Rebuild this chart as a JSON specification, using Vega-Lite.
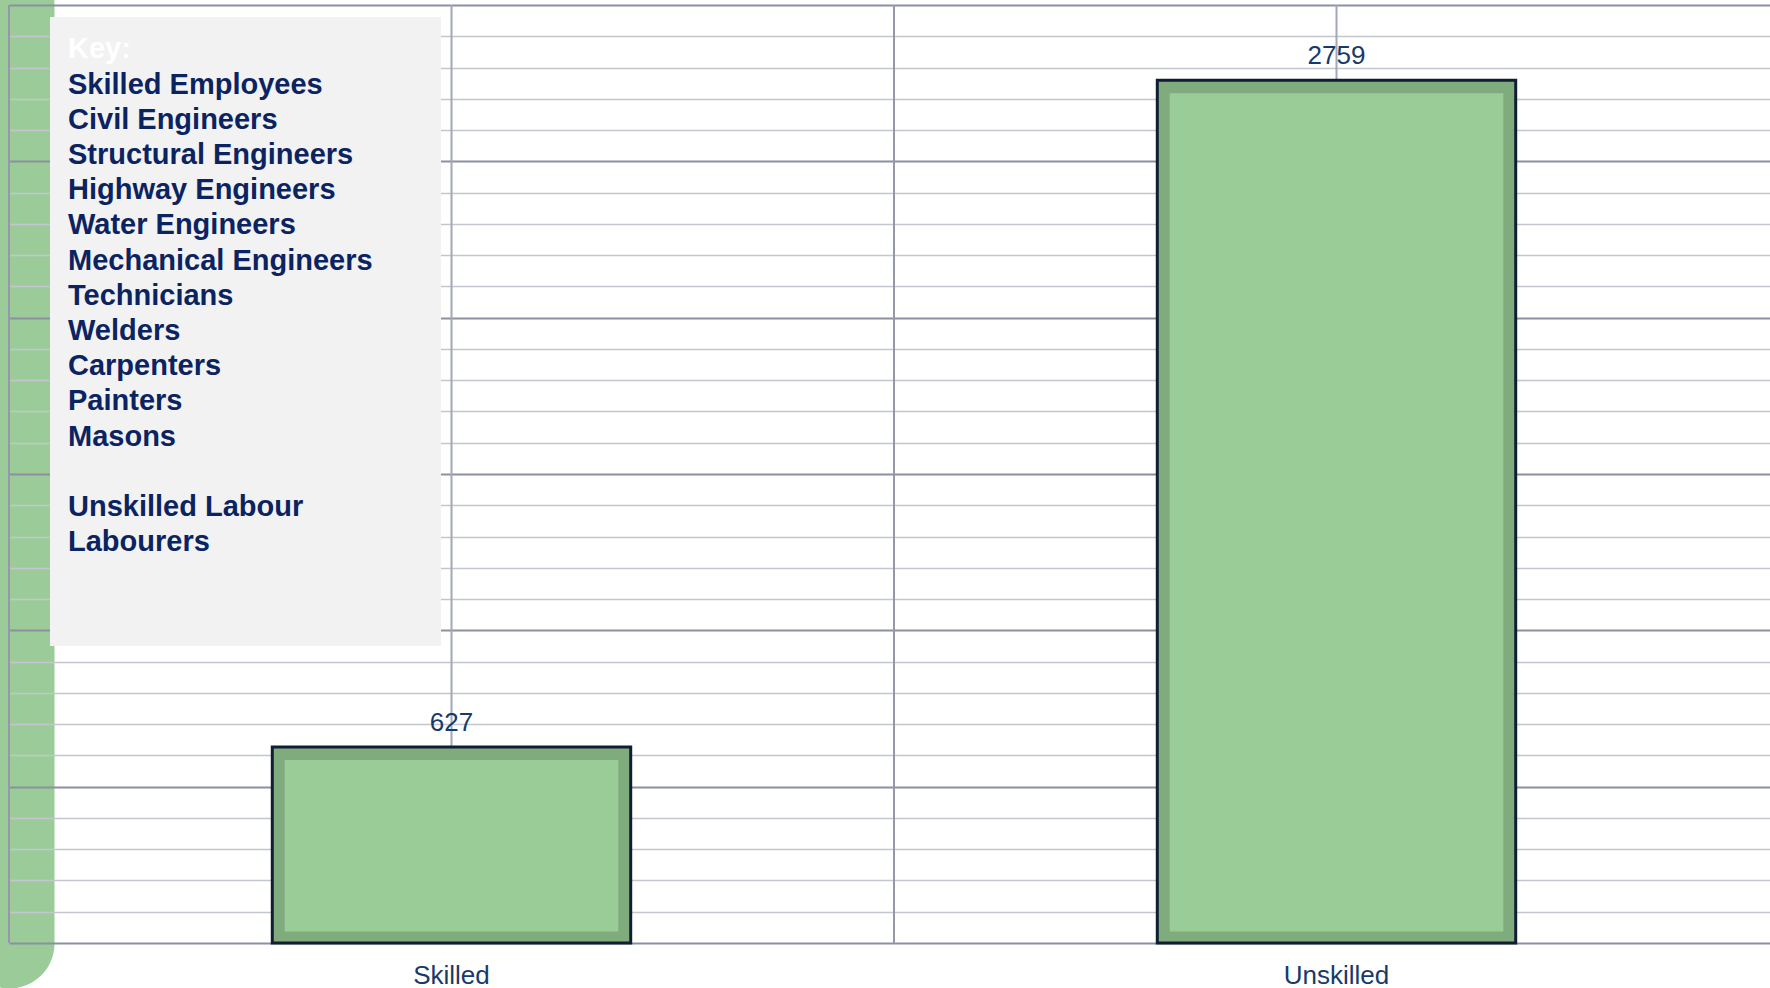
{
  "$schema": "https://vega.github.io/schema/vega-lite/v6.json",
  "width": 1770,
  "height": 988,
  "autosize": {"type": "none"},
  "padding": 0,
  "background": "white",
  "config": {
    "font": "Liberation Sans",
    "view": {"stroke": null}
  },
  "resolve": {"axis": {"x": "independent", "y": "independent"}},
  "datasets": {
    "counts": [
      {"category": "Skilled", "count": 627},
      {"category": "Unskilled", "count": 2759}
    ],
    "key": [
      {"item": "Skilled Employees"},
      {"item": "Civil Engineers"},
      {"item": "Structural Engineers"},
      {"item": "Highway Engineers"},
      {"item": "Water Engineers"},
      {"item": "Mechanical Engineers"},
      {"item": "Technicians"},
      {"item": "Welders"},
      {"item": "Carpenters"},
      {"item": "Painters"},
      {"item": "Masons"},
      {"item": "Unskilled Labour"},
      {"item": "Labourers"}
    ]
  },
  "layer": [
    {
      "data": {"name": "counts"},
      "mark": {"type": "rule", "color": "#9498A8", "strokeWidth": 2},
      "encoding": {
        "x": {
          "field": "category", "type": "nominal", "bandPosition": 0,
          "axis": {
            "orient": "top", "title": null, "labels": false, "ticks": false, "domain": false,
            "grid": true, "bandPosition": 0, "values": ["Skilled"],
            "gridColor": "#9BCB98", "gridWidth": 90, "gridCap": "round", "gridOpacity": 1
          }
        },
        "y": {"datum": 0, "type": "quantitative", "axis": null},
        "y2": {"datum": 3000}
      }
    },
    {
      "data": {"name": "counts"},
      "mark": {"type": "rule", "color": "#A4A8B6", "strokeWidth": 2},
      "encoding": {
        "x": {"field": "category", "type": "nominal", "bandPosition": 0.5, "axis": null},
        "y": {"datum": 0, "type": "quantitative", "axis": null},
        "y2": {"datum": 3000}
      }
    },
    {
      "data": {"name": "counts"},
      "mark": {"type": "bar", "fill": "#80AB7D", "stroke": "#0F1E33", "strokeWidth": 3, "width": {"band": 0.405}},
      "encoding": {
        "x": {
          "field": "category", "type": "nominal",
          "scale": {"domain": ["Skilled", "Unskilled"], "range": [9, 1779], "paddingInner": 0, "paddingOuter": 0},
          "axis": {
            "title": null, "orient": "bottom", "offset": -13, "domain": false, "ticks": false, "grid": false,
            "labelAngle": 0, "labelFontSize": 26, "labelColor": "#173A6B", "labelPadding": 0,
            "labelBaseline": "middle", "labelFont": "Liberation Sans"
          }
        },
        "y": {
          "field": "count", "type": "quantitative",
          "scale": {"domain": [0, 3000], "range": [943, 5], "nice": false, "zero": true},
          "axis": {
            "title": null, "orient": "left", "domain": false, "ticks": false, "labels": false, "grid": true,
            "values": [0,100,200,300,400,500,600,700,800,900,1000,1100,1200,1300,1400,1500,1600,1700,1800,1900,2000,2100,2200,2300,2400,2500,2600,2700,2800,2900,3000],
            "gridColor": {"condition": {"test": "datum.value % 500 === 0", "value": "#8C90A1"}, "value": "#C3C6CE"},
            "gridWidth": {"condition": {"test": "datum.value % 500 === 0", "value": 2}, "value": 1.6},
            "gridOpacity": 1
          }
        }
      }
    },
    {
      "data": {"name": "counts"},
      "mark": {"type": "bar", "fill": "#9ACC98", "width": {"band": 0.377}, "yOffset": 13},
      "encoding": {
        "x": {"field": "category", "type": "nominal", "axis": null},
        "y": {"field": "count", "type": "quantitative", "axis": null},
        "y2": {"datum": 37}
      }
    },
    {
      "data": {"name": "counts"},
      "mark": {"type": "text", "fontSize": 26, "color": "#173A6B", "baseline": "alphabetic", "dy": -16, "font": "Liberation Sans"},
      "encoding": {
        "x": {"field": "category", "type": "nominal", "axis": null},
        "y": {"field": "count", "type": "quantitative", "axis": null},
        "text": {"field": "count", "type": "quantitative"}
      }
    },
    {
      "data": {"name": "key"},
      "mark": {"type": "text", "opacity": 0},
      "encoding": {
        "color": {
          "field": "item", "type": "nominal",
          "scale": {
            "domain": ["Skilled Employees","Civil Engineers","Structural Engineers","Highway Engineers","Water Engineers","Mechanical Engineers","Technicians","Welders","Carpenters","Painters","Masons"," ","Unskilled Labour","Labourers","  ","............................................"],
            "range": ["#0B2461"]
          },
          "legend": {
            "orient": "none", "legendX": 50, "legendY": 17,
            "title": "Key:", "titleColor": "#FFFFFF", "titleFontSize": 29, "titleFontWeight": "bold", "titleFont": "Liberation Sans",
            "titlePadding": 6, "titleLimit": 600,
            "labelFont": "Liberation Sans", "labelFontSize": 29, "labelFontWeight": "bold", "labelColor": "#0B2461",
            "labelLimit": 600, "labelOffset": -29,
            "symbolSize": 0, "symbolOpacity": 0, "symbolStrokeWidth": 0, "symbolType": "square",
            "rowPadding": 5.2, "padding": 18, "fillColor": "#F2F2F2", "strokeColor": null,
            "encode": {
              "labels": {"update": {"fill": {"signal": "length(datum.label) > 30 ? '#F2F2F2' : '#0B2461'"}}}
            }
          }
        }
      }
    }
  ]
}
